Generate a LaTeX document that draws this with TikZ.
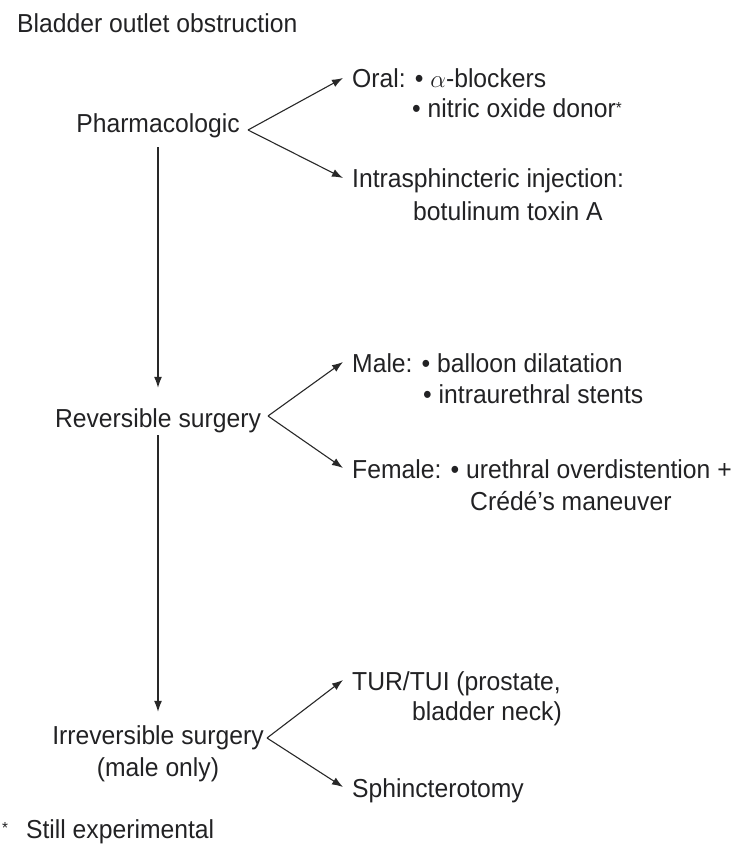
\documentclass[tikz,border=0pt]{standalone}
\usepackage{fontspec}
\setmainfont[FakeStretch=0.95]{Liberation Sans}
\usepackage{tikz}
\usetikzlibrary{arrows.meta}
\definecolor{ink}{RGB}{34, 34, 36}
\definecolor{wire}{RGB}{40, 40, 40}
\newcommand{\fnmark}{{\fontsize{16}{16}\selectfont *}}

\begin{document}
\begin{tikzpicture}[
  x=1pt, y=-1pt,
  every node/.style={text=ink, font=\fontsize{26}{32}\selectfont},
  stage/.style={anchor=base, inner sep=0pt, text height=19pt, text depth=5pt},
  item/.style={anchor=base west, inner xsep=9pt, inner ysep=0pt,
               text height=20pt, text depth=0pt},
  cont/.style={anchor=base west, inner sep=0pt},
  arr/.style={draw=wire, line width=1.1pt, -{Latex[length=11pt, width=8pt]}},
]
  \useasboundingbox (0,0) rectangle (747,850);

  \node[cont] (title) at (17,33) {Bladder outlet obstruction};

  % left column
  \node[stage] (pharm)   at (158,133) {Pharmacologic};
  \node[stage] (rev)     at (158,427) {Reversible surgery};
  \node[stage] (irr)     at (158,744) {Irreversible surgery};
  \node[stage] (irrnote) at (158,776) {(male only)};

  % right column
  \node[item] (oral)  at (343,88)  {Oral: • $\alpha$-blockers};
  \node[cont] (oralb) at (412,118) {• nitric oxide donor\raisebox{4pt}{\fnmark}};
  \node[item] (inj)   at (343,188) {Intrasphincteric injection:};
  \node[cont] (injb)  at (413,220) {botulinum toxin A};
  \node[item] (male)  at (343,372) {Male: • balloon dilatation};
  \node[cont] (maleb) at (423,403) {• intraurethral stents};
  \node[item] (fem)   at (343,478) {Female: • urethral overdistention +};
  \node[cont] (femb)  at (470,510) {Crédé’s maneuver};
  \node[item] (tur)   at (343,690) {TUR/TUI (prostate,};
  \node[cont] (turb)  at (412,720) {bladder neck)};
  \node[item] (sph)   at (343,797) {Sphincterotomy};

  \node[cont] (foot) at (2,838) {\raisebox{5pt}{\fnmark}\hspace{18pt}Still experimental};

  \coordinate (pfork) at (248,130);
  \coordinate (rfork) at (268,416);
  \coordinate (ifork) at (267,738);

  \foreach \f/\t in {pfork/oral, pfork/inj, rfork/male, rfork/fem, ifork/tur, ifork/sph}
    \draw[arr] (\f) -- (\t.west);

  \draw[arr, shorten <=9pt, shorten >=20pt] (pharm) -- (rev);
  \draw[arr, shorten <=3pt, shorten >=13pt] (rev) -- (irr);
\end{tikzpicture}
\end{document}
